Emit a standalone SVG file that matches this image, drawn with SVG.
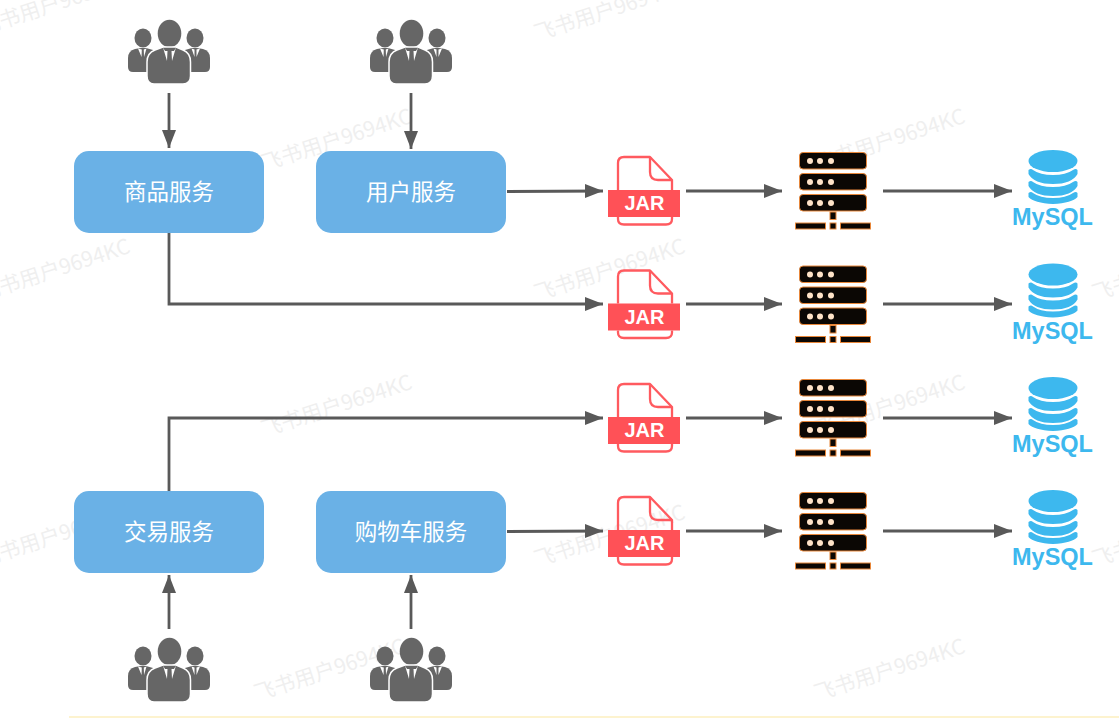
<svg xmlns="http://www.w3.org/2000/svg" width="1119" height="718" viewBox="0 0 1119 718">
<style>
.wm{font-family:"Noto Sans CJK SC","Liberation Sans",sans-serif;font-size:21px;fill:#efefef}
.box{fill:#6AB1E6}
.lbl{font-family:"Noto Sans CJK SC",sans-serif;font-size:22.500px;fill:#fff;text-anchor:middle}
.c{fill:none;stroke:#595959;stroke-width:2.800;marker-end:url(#ah)}
.jt{font-family:"Liberation Sans",sans-serif;font-weight:700;font-size:20px;fill:#fff;text-anchor:middle}
.my{font-family:"Liberation Sans",sans-serif;font-weight:700;font-size:23.500px;fill:#3DB8EE;text-anchor:middle}
</style>
<defs>
<marker id="ah" markerUnits="userSpaceOnUse" markerWidth="20" markerHeight="16" refX="18" refY="8" orient="auto"><path d="M0 1L18 8L0 15Z" fill="#595959"/></marker>
<symbol id="user" overflow="visible">
<g fill="#666">
<ellipse cx="143" cy="38" rx="8.500" ry="9.500"/><ellipse cx="195" cy="38" rx="8.500" ry="9.500"/>
<path d="M128 58Q128 51 135 49L141 48H146L153 50V72H133Q128 72 128 67Z"/>
<path d="M210 58Q210 51 203 49L197 48H192L185 50V72H205Q210 72 210 67Z"/>
<ellipse cx="169.500" cy="33.500" rx="11.800" ry="13.800"/>
<path d="M147 62Q147 53 155 50L163 47H176L183 50Q190.500 53 190.500 62V76Q190.500 84 183 84H154Q147 84 147 76Z" stroke="#fff" stroke-width="1.500"/>
</g>
<g fill="#fff">
<path d="M163 47.500L167 61L167.500 51H165Z"/><path d="M176 47.500L172 61L171.500 51H174Z"/>
<path d="M138 48.500L141.500 57L141.800 49.500Z"/><path d="M146.500 48.500L144 57L143.800 49.500Z"/>
<path d="M191.500 48.500L194.500 57L194.500 49.500Z"/><path d="M200 48.500L196.500 57L196.500 49.500Z"/>
</g>
</symbol>
<symbol id="jar" overflow="visible">
<g fill="none" stroke="#FF5A5F" stroke-width="2.300" stroke-linejoin="round">
<path d="M618 190V163Q618 157 624 157H650L672 180V190"/>
<path d="M618 217V219Q618 224.500 624 224.500H666Q672 224.500 672 219V217"/>
<path d="M650 157V172Q650 180 658 180H672"/>
</g>
<rect x="608" y="190" width="72" height="27" fill="#FF5157"/>
<text class="jt" x="644.500" y="210">JAR</text>
</symbol>
<symbol id="server" overflow="visible">
<g fill="#0b0704" stroke="#E8873A" stroke-width="1">
<rect x="799.500" y="152.500" width="67" height="16.500" rx="3.500"/>
<rect x="799.500" y="173.500" width="67" height="16.500" rx="3.500"/>
<rect x="799.500" y="194.500" width="67" height="16.500" rx="3.500"/>
<rect x="830" y="212" width="6" height="7.500"/>
<rect x="795.500" y="223" width="30" height="6"/>
<rect x="830" y="223" width="6" height="6"/>
<rect x="840.500" y="223" width="30" height="6"/>
</g>
<g fill="#FFE3C8">
<circle cx="810" cy="161" r="3"/><circle cx="820" cy="161" r="3"/><circle cx="831" cy="161" r="3"/>
<circle cx="810" cy="182" r="3"/><circle cx="820" cy="182" r="3"/><circle cx="831" cy="182" r="3"/>
<circle cx="810" cy="203" r="3"/><circle cx="820" cy="203" r="3"/><circle cx="831" cy="203" r="3"/>
</g>
</symbol>
<symbol id="mysql" overflow="visible">
<ellipse cx="1053" cy="161" rx="24.500" ry="11" fill="#3DB8EE"/>
<g fill="#3DB8EE">
<path d="M1028.500 170Q1031 168 1033 170Q1040 175 1053 175Q1066 175 1073 170Q1076 168 1077.500 170V174Q1072 184 1053 184Q1034 184 1028.500 174Z"/>
<path d="M1028.500 182Q1031 180 1033 182Q1040 187 1053 187Q1066 187 1073 182Q1076 180 1077.500 182V186Q1072 196 1053 196Q1034 196 1028.500 186Z"/>
<path d="M1028.500 193Q1031 191 1033 193Q1040 198 1053 198Q1066 198 1073 193Q1076 191 1077.500 193V197Q1072 203 1053 204Q1034 203 1028.500 197Z"/>
</g>
<text class="my" x="1052.500" y="225">MySQL</text>
</symbol>
</defs>
<rect width="1119" height="718" fill="#fff"/>
<g id="watermarks">
<text class="wm" transform="translate(-18 35) rotate(-18)">飞书用户9694KC</text>
<text class="wm" transform="translate(537 41) rotate(-18)">飞书用户9694KC</text>
<text class="wm" transform="translate(264 171) rotate(-18)">飞书用户9694KC</text>
<text class="wm" transform="translate(817 171) rotate(-18)">飞书用户9694KC</text>
<text class="wm" transform="translate(-18 301) rotate(-18)">飞书用户9694KC</text>
<text class="wm" transform="translate(537 301) rotate(-18)">飞书用户9694KC</text>
<text class="wm" transform="translate(1095 301) rotate(-18)">飞书用户9694KC</text>
<text class="wm" transform="translate(264 437) rotate(-18)">飞书用户9694KC</text>
<text class="wm" transform="translate(817 437) rotate(-18)">飞书用户9694KC</text>
<text class="wm" transform="translate(-18 567) rotate(-18)">飞书用户9694KC</text>
<text class="wm" transform="translate(537 567) rotate(-18)">飞书用户9694KC</text>
<text class="wm" transform="translate(1095 567) rotate(-18)">飞书用户9694KC</text>
<text class="wm" transform="translate(257 701) rotate(-18)">飞书用户9694KC</text>
<text class="wm" transform="translate(817 701) rotate(-18)">飞书用户9694KC</text>
</g>
<g id="connectors">
<path class="c" d="M169 93V148"/>
<path class="c" d="M411 93V149"/>
<path class="c" d="M169 629V575"/>
<path class="c" d="M411 629V575"/>
<path class="c" d="M507 191.500L603 191"/>
<path class="c" d="M169 233V304H603"/>
<path class="c" d="M169 491V418H603"/>
<path class="c" d="M507 531.500L603 531"/>
<path class="c" d="M686 191H782"/><path class="c" d="M686 304H782"/><path class="c" d="M686 418H782"/><path class="c" d="M686 531H782"/>
<path class="c" d="M883 191H1012"/><path class="c" d="M883 304H1012"/><path class="c" d="M883 418H1012"/><path class="c" d="M883 531H1012"/>
</g>
<g id="svc-goods"><rect class="box" x="74" y="151" width="190" height="82" rx="15"/><text class="lbl" x="169" y="200">商品服务</text></g>
<g id="svc-user"><rect class="box" x="316" y="151" width="190" height="82" rx="15"/><text class="lbl" x="411" y="200">用户服务</text></g>
<g id="svc-trade"><rect class="box" x="74" y="491" width="190" height="82" rx="15"/><text class="lbl" x="169" y="540">交易服务</text></g>
<g id="svc-cart"><rect class="box" x="316" y="491" width="190" height="82" rx="15"/><text class="lbl" x="411" y="540">购物车服务</text></g>
<g id="users-1"><use href="#user"/></g>
<g id="users-2"><use href="#user" x="242"/></g>
<g id="users-3"><use href="#user" y="618"/></g>
<g id="users-4"><use href="#user" x="242" y="618"/></g>
<g id="jar-1"><use href="#jar"/></g>
<g id="jar-2"><use href="#jar" y="113.500"/></g>
<g id="jar-3"><use href="#jar" y="227"/></g>
<g id="jar-4"><use href="#jar" y="340"/></g>
<g id="server-1"><use href="#server"/></g>
<g id="server-2"><use href="#server" y="113.500"/></g>
<g id="server-3"><use href="#server" y="227"/></g>
<g id="server-4"><use href="#server" y="340"/></g>
<g id="mysql-1"><use href="#mysql"/></g>
<g id="mysql-2"><use href="#mysql" y="113.500"/></g>
<g id="mysql-3"><use href="#mysql" y="227"/></g>
<g id="mysql-4"><use href="#mysql" y="340"/></g>
<rect x="69" y="716" width="1050" height="2" fill="#FDF3CF"/>
</svg>
